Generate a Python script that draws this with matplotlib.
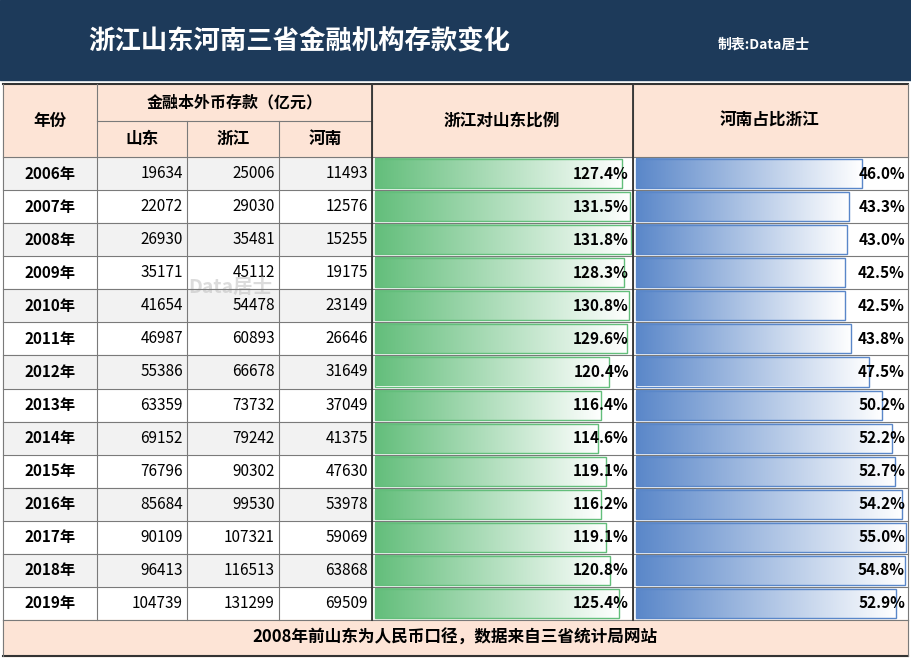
import numpy as np
import matplotlib
matplotlib.use("Agg")
import matplotlib.pyplot as plt
from matplotlib.patches import Rectangle
from matplotlib.colors import LinearSegmentedColormap

plt.rcParams['font.family'] = ['Noto Sans CJK SC', 'DejaVu Sans']

years = ["2006年","2007年","2008年","2009年","2010年","2011年","2012年","2013年","2014年","2015年","2016年","2017年","2018年","2019年"]
shandong = [19634,22072,26930,35171,41654,46987,55386,63359,69152,76796,85684,90109,96413,104739]
zhejiang = [25006,29030,35481,45112,54478,60893,66678,73732,79242,90302,99530,107321,116513,131299]
henan = [11493,12576,15255,19175,23149,26646,31649,37049,41375,47630,53978,59069,63868,69509]
ratio_zj_sd = [127.4,131.5,131.8,128.3,130.8,129.6,120.4,116.4,114.6,119.1,116.2,119.1,120.8,125.4]
ratio_hn_zj = [46.0,43.3,43.0,42.5,42.5,43.8,47.5,50.2,52.2,52.7,54.2,55.0,54.8,52.9]
title = "浙江山东河南三省金融机构存款变化"
credit = "制表:Data居士"
footer = "2008年前山东为人民币口径，数据来自三省统计局网站"

fig = plt.figure(figsize=(9.12, 6.59), dpi=100)
ax = fig.add_axes([0, 0, 1, 1])
ax.set_xlim(0, 912); ax.set_ylim(659, 0); ax.axis('off')

navy = "#1d3a5a"; peach = "#fde4d6"; grid = "#7a7a7a"
ax.add_patch(Rectangle((0, 0), 912, 80, color=navy))
ax.text(88, 42, title, color="white", fontsize=19, fontweight='bold', va='center')
ax.text(718, 45, credit, color="white", fontsize=10, fontweight='bold', va='center')

cols = [3, 97, 187, 279, 372, 633, 908]
top, h0, h1 = 84, 121, 157
rh = (620 - 157) / 14
ax.add_patch(Rectangle((3, top), 905, h1 - top, color=peach))
ax.add_patch(Rectangle((3, 620), 905, 36, color=peach))
for i in range(14):
    y = h1 + i * rh
    ax.add_patch(Rectangle((3, y), 370, rh, color="#f2f2f2" if i % 2 == 0 else "#ffffff", zorder=0))

green = LinearSegmentedColormap.from_list("g", ["#63be7b", "#ffffff"])
blue = LinearSegmentedColormap.from_list("b", ["#5a87c9", "#ffffff"])
grad = np.linspace(0, 1, 256).reshape(1, -1)
for i in range(14):
    y = h1 + i * rh
    L = ratio_zj_sd[i] / max(ratio_zj_sd) * 256
    ax.imshow(grad, cmap=green, extent=(375, 375 + L, y + rh - 2, y + 2), aspect='auto', zorder=1)
    ax.add_patch(Rectangle((375, y + 2), L, rh - 4, fill=False, ec="#63be7b", lw=1, zorder=2))
    L2 = ratio_hn_zj[i] / max(ratio_hn_zj) * 270
    ax.imshow(grad, cmap=blue, extent=(636, 636 + L2, y + rh - 2, y + 2), aspect='auto', zorder=1)
    ax.add_patch(Rectangle((636, y + 2), L2, rh - 4, fill=False, ec="#5a87c9", lw=1, zorder=2))
    cy = y + rh / 2
    ax.text(50, cy, years[i], ha='center', va='center', fontsize=11, fontweight='bold', zorder=3)
    for c, v in zip([183, 275, 368], [shandong[i], zhejiang[i], henan[i]]):
        ax.text(c, cy, str(v), ha='right', va='center', fontsize=11, zorder=3)
    ax.text(629, cy, f"{ratio_zj_sd[i]:.1f}%", ha='right', va='center', fontsize=11, fontweight='bold', zorder=3)
    ax.text(905, cy, f"{ratio_hn_zj[i]:.1f}%", ha='right', va='center', fontsize=11, fontweight='bold', zorder=3)

ax.text(230, 287, "Data居士", color="#bbbbbb", alpha=0.5, fontsize=14, fontweight='bold', ha='center', va='center', zorder=4)

# headers
ax.text(50, (top + h1) / 2, "年份", ha='center', va='center', fontsize=12, fontweight='bold')
ax.text(235, (top + h0) / 2, "金融本外币存款（亿元）", ha='center', va='center', fontsize=11.5, fontweight='bold')
for a, b, t in [(97, 187, "山东"), (187, 279, "浙江"), (279, 372, "河南")]:
    ax.text((a + b) / 2, (h0 + h1) / 2, t, ha='center', va='center', fontsize=12, fontweight='bold')
ax.text(502, (top + h1) / 2, "浙江对山东比例", ha='center', va='center', fontsize=12, fontweight='bold')
ax.text(770, (top + h1) / 2, "河南占比浙江", ha='center', va='center', fontsize=12, fontweight='bold')
ax.text(455, 638, footer, ha='center', va='center', fontsize=12, fontweight='bold')

# grid lines
kw = dict(color=grid, lw=0.8, zorder=5)
for i in range(15):
    y = h1 + i * rh
    ax.plot([3, 908], [y, y], **kw)
ax.plot([3, 908], [top, top], color="#333", lw=1.5, zorder=5)
ax.plot([97, 372], [h0, h0], **kw)
ax.plot([3, 908], [656, 656], color="#333", lw=1.5, zorder=5)
for x in cols:
    y0 = h0 if x in (187, 279) else top
    ax.plot([x, x], [y0, 620], **kw)
ax.plot([3, 3], [620, 656], **kw); ax.plot([908, 908], [620, 656], **kw)
ax.plot([372, 372], [top, 620], color="#333", lw=1.3, zorder=5)
ax.plot([633, 633], [top, 620], color="#333", lw=1.3, zorder=5)

fig.savefig("out.png", dpi=100)
